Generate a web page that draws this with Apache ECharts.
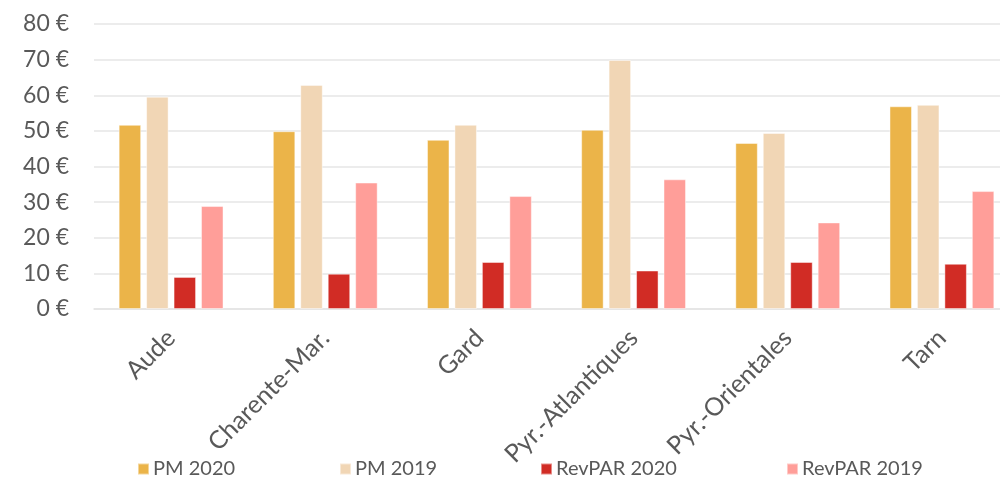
<!DOCTYPE html>
<html>
<head>
<meta charset="utf-8">
<script src="https://cdn.jsdelivr.net/npm/echarts@6/dist/echarts.min.js"></script>
<style>html,body{margin:0;padding:0;background:#fff;overflow:hidden;width:1000px;height:481px}#c{width:1019px;height:481px}</style>
</head>
<body>
<div id="c"></div>
<script>
var categories = ['Aude', 'Charente-Mar.', 'Gard', 'Pyr.-Atlantiques', 'Pyr.-Orientales', 'Tarn'];
var pm2020 = [51.7, 49.9, 47.5, 50.3, 46.6, 56.9];
var pm2019 = [59.6, 62.9, 51.7, 69.9, 49.4, 57.3];
var revpar2020 = [9.0, 9.9, 13.2, 10.8, 13.2, 12.7];
var revpar2019 = [28.9, 35.5, 31.7, 36.4, 24.3, 33.1];
var seriesNames = ['PM 2020', 'PM 2019', 'RevPAR 2020', 'RevPAR 2019'];
var colors = ['#EBB449', '#F1D6B5', '#D12C25', '#FF9E99'];
var legendLeft = [137, 339, 540, 786];

var font = 'Lato, "Open Sans", sans-serif';
var chart = echarts.init(document.getElementById('c'), null, {renderer: 'canvas'});
var datas = [pm2020, pm2019, revpar2020, revpar2019];
var series = datas.map(function (d, i) {
  return {
    name: seriesNames[i], type: 'bar', data: d,
    barWidth: 22.5, barGap: '22%',
    itemStyle: {color: colors[i], borderColor: 'rgba(255,255,255,0.45)', borderWidth: 1}
  };
});
var legends = seriesNames.map(function (n, i) {
  return {
    data: [n], left: legendLeft[i], top: 459, padding: 0, itemWidth: 11, itemHeight: 11, itemGap: 0,
    icon: 'rect',
    textStyle: {fontFamily: font, fontSize: 20, color: '#595959', padding: [0, 0, 0, -1]}
  };
});
chart.setOption({
  animation: false,
  color: colors,
  legend: legends,
  grid: {left: 94, top: 24, right: 0, bottom: 172, containLabel: false},
  xAxis: {
    type: 'category', data: categories,
    axisLine: {lineStyle: {color: '#e3e3e3', width: 1.5}},
    axisTick: {show: false},
    axisLabel: {rotate: 45, fontFamily: font, fontSize: 25, color: '#595959', margin: 25, interval: 0}
  },
  yAxis: {
    type: 'value', min: 0, max: 80, interval: 10,
    axisLine: {show: false}, axisTick: {show: false},
    splitLine: {lineStyle: {color: '#e6e6e6', width: 1.5}},
    axisLabel: {fontFamily: font, fontSize: 23, color: '#595959', margin: 25,
      formatter: function (v) { return v + ' €'; }}
  },
  series: series
});
</script>
</body>
</html>
